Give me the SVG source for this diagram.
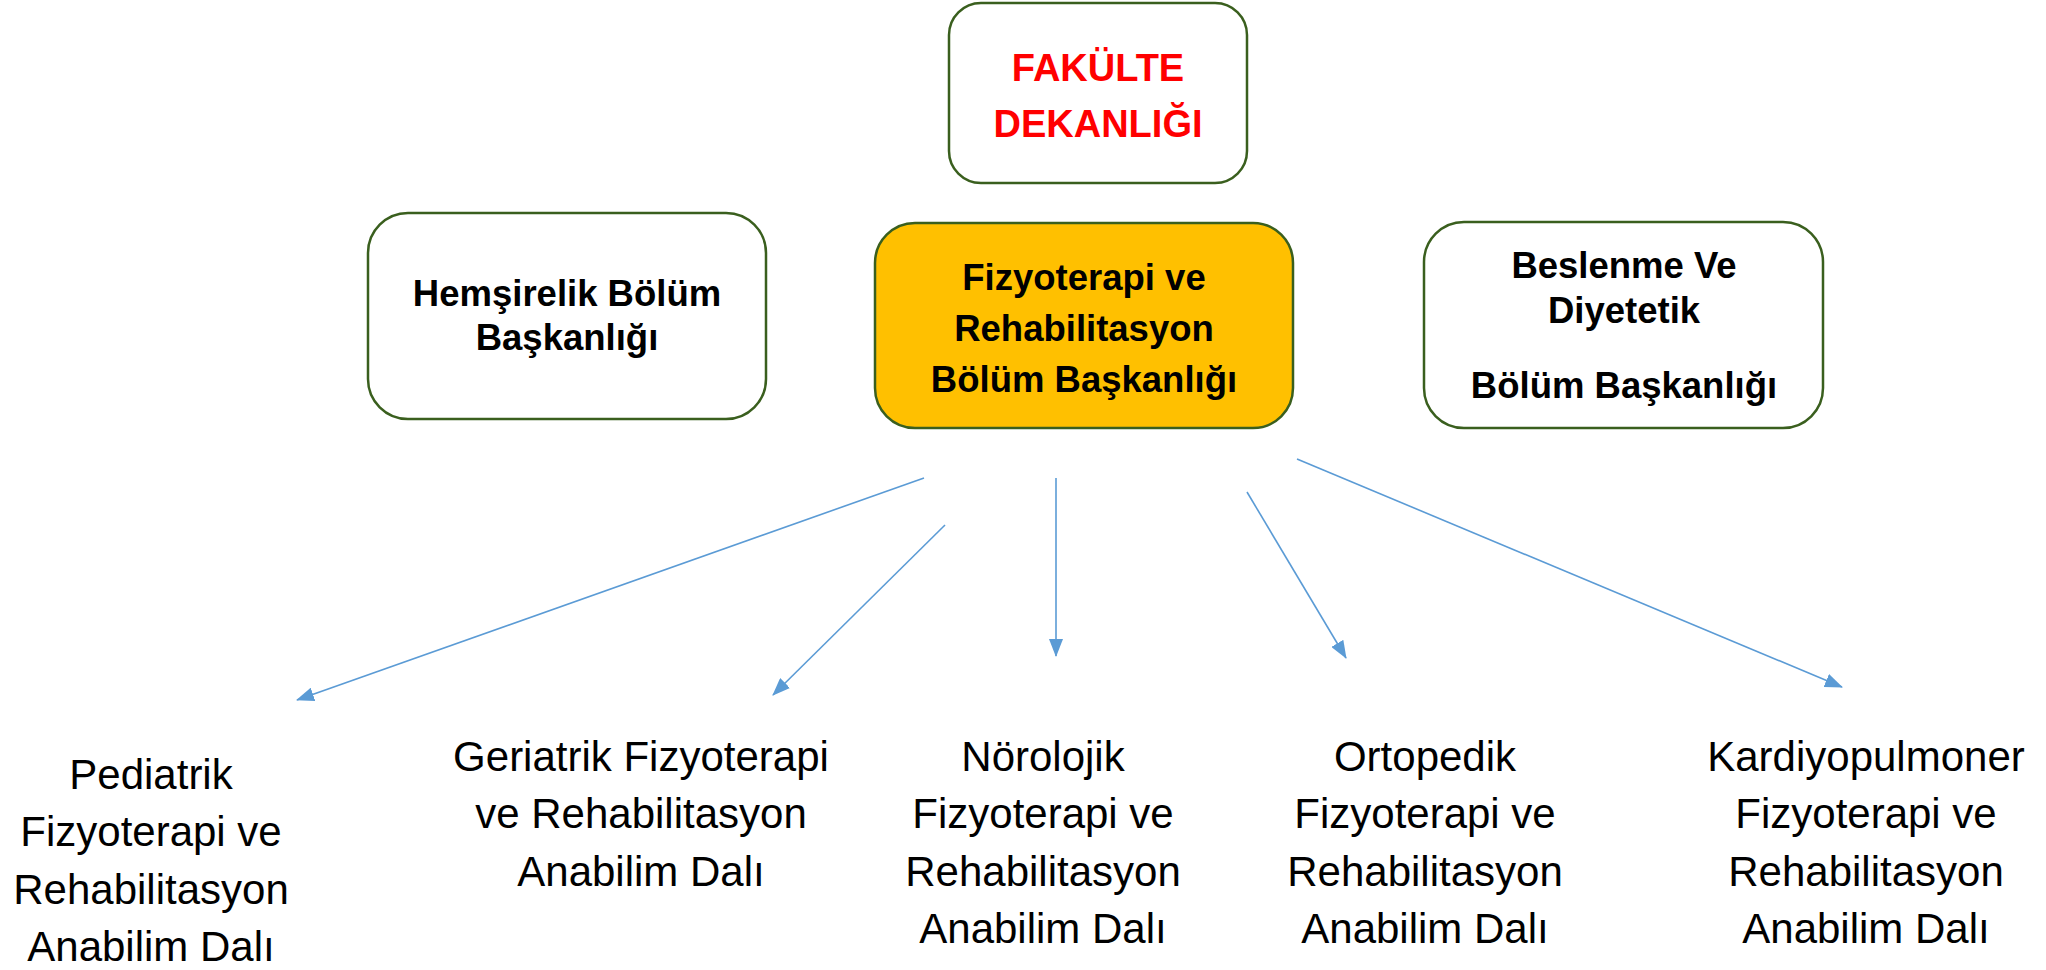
<svg xmlns="http://www.w3.org/2000/svg" width="2046" height="970" viewBox="0 0 2046 970">
<defs>
<style>
.box{fill:#FFFFFF;stroke:#3A5F1E;stroke-width:2.5}
.main{fill:#FFC000;stroke:#3A5F1E;stroke-width:2.5}
.bt{font-family:"Liberation Sans",Arial,sans-serif;font-weight:bold;font-size:36.5px;fill:#000;text-anchor:middle}
.red{font-family:"Liberation Sans",Arial,sans-serif;font-weight:bold;font-size:38px;fill:#FF0000;text-anchor:middle}
.lt{font-family:"Liberation Sans",Arial,sans-serif;font-size:42px;fill:#000;text-anchor:middle}
.conn{stroke:#5B9BD5;stroke-width:1.6;fill:none;marker-end:url(#arr)}
</style>
<marker id="arr" markerUnits="userSpaceOnUse" markerWidth="18" markerHeight="14" refX="17" refY="7" orient="auto">
<path d="M0,0 L18,7 L0,14 Z" fill="#5B9BD5"/>
</marker>
</defs>
<rect width="2046" height="970" fill="#FFFFFF"/>

<g id="dekanlik">
<rect class="box" x="949" y="3" width="298" height="180" rx="32"/>
<text class="red" x="1098" y="81">FAKÜLTE</text>
<text class="red" x="1098" y="137">DEKANLIĞI</text>
</g>

<g id="hemsirelik">
<rect class="box" x="368" y="213" width="398" height="206" rx="40"/>
<text class="bt" x="567" y="306">Hemşirelik Bölüm</text>
<text class="bt" x="567" y="350">Başkanlığı</text>
</g>

<g id="fizyoterapi">
<rect class="main" x="875" y="223" width="418" height="205" rx="40"/>
<text class="bt" x="1084" y="290">Fizyoterapi ve</text>
<text class="bt" x="1084" y="341">Rehabilitasyon</text>
<text class="bt" x="1084" y="392">Bölüm Başkanlığı</text>
</g>

<g id="beslenme">
<rect class="box" x="1424" y="222" width="399" height="206" rx="40"/>
<text class="bt" x="1624" y="278">Beslenme Ve</text>
<text class="bt" x="1624" y="323">Diyetetik</text>
<text class="bt" x="1624" y="398">Bölüm Başkanlığı</text>
</g>

<g id="connectors">
<line class="conn" x1="924" y1="478" x2="297" y2="700"/>
<line class="conn" x1="945" y1="525" x2="773" y2="695"/>
<line class="conn" x1="1056" y1="478" x2="1056" y2="656"/>
<line class="conn" x1="1247" y1="492" x2="1346" y2="658"/>
<line class="conn" x1="1297" y1="459" x2="1842" y2="687"/>
</g>

<g id="pediatrik">
<text class="lt" x="151" y="789">Pediatrik</text>
<text class="lt" x="151" y="846">Fizyoterapi ve</text>
<text class="lt" x="151" y="904">Rehabilitasyon</text>
<text class="lt" x="151" y="961">Anabilim Dalı</text>
</g>

<g id="geriatrik">
<text class="lt" x="641" y="771">Geriatrik Fizyoterapi</text>
<text class="lt" x="641" y="828">ve Rehabilitasyon</text>
<text class="lt" x="641" y="886">Anabilim Dalı</text>
</g>

<g id="norolojik">
<text class="lt" x="1043" y="771">Nörolojik</text>
<text class="lt" x="1043" y="828">Fizyoterapi ve</text>
<text class="lt" x="1043" y="886">Rehabilitasyon</text>
<text class="lt" x="1043" y="943">Anabilim Dalı</text>
</g>

<g id="ortopedik">
<text class="lt" x="1425" y="771">Ortopedik</text>
<text class="lt" x="1425" y="828">Fizyoterapi ve</text>
<text class="lt" x="1425" y="886">Rehabilitasyon</text>
<text class="lt" x="1425" y="943">Anabilim Dalı</text>
</g>

<g id="kardiyopulmoner">
<text class="lt" x="1866" y="771">Kardiyopulmoner</text>
<text class="lt" x="1866" y="828">Fizyoterapi ve</text>
<text class="lt" x="1866" y="886">Rehabilitasyon</text>
<text class="lt" x="1866" y="943">Anabilim Dalı</text>
</g>
</svg>
